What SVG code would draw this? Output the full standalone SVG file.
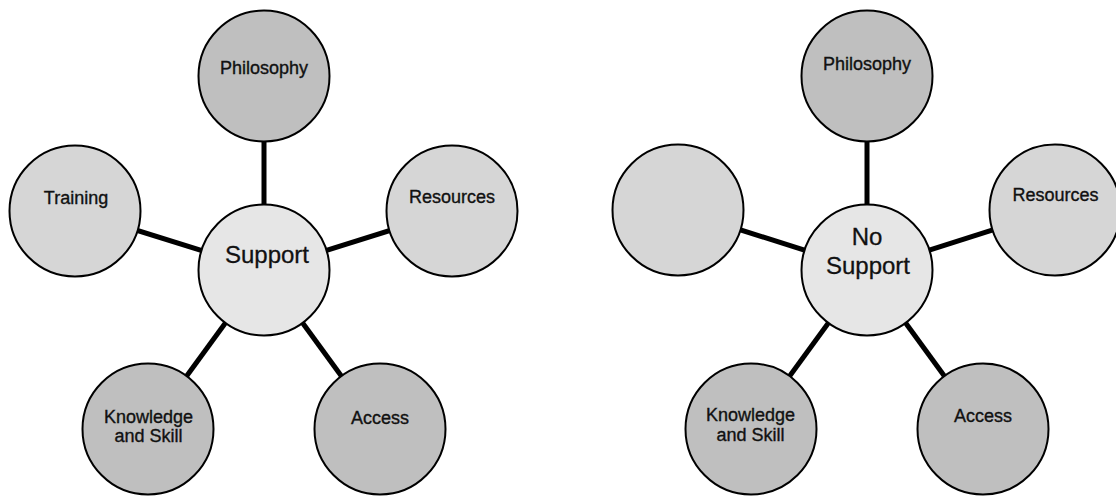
<svg xmlns="http://www.w3.org/2000/svg" width="1116" height="496" viewBox="0 0 1116 496">
<style>
.bg{fill:#ffffff}
.conn line{stroke:#000;stroke-width:5;stroke-linecap:butt}
.node circle{stroke:#000;stroke-width:2}
.dark{fill:#bfbfbf}
.mid{fill:#d6d6d6}
.light{fill:#e6e6e6}
text{font-family:"Liberation Sans",Arial,Helvetica,sans-serif;fill:#111;stroke:#111;stroke-width:0.35;text-anchor:middle;font-size:18px}
text.big{font-size:24px;stroke-width:0.3}
</style>
<rect class="bg" x="0" y="0" width="1116" height="496"/>
<g id="connectors" class="conn">
  <line x1="264" y1="270" x2="264" y2="76"/>
  <line x1="264" y1="270" x2="75" y2="211"/>
  <line x1="264" y1="270" x2="452" y2="211"/>
  <line x1="264" y1="270" x2="148" y2="429"/>
  <line x1="264" y1="270" x2="380" y2="429"/>
  <line x1="867" y1="270" x2="867" y2="76"/>
  <line x1="867" y1="270" x2="678" y2="210"/>
  <line x1="867" y1="270" x2="1055" y2="210"/>
  <line x1="867" y1="270" x2="751" y2="429"/>
  <line x1="867" y1="270" x2="983" y2="429"/>
</g>
<g id="philosophy-1" class="node"><circle class="dark" cx="264" cy="76" r="65.5"/><text x="264" y="74">Philosophy</text></g>
<g id="training-1" class="node"><circle class="mid" cx="75" cy="211" r="65.5"/><text x="76" y="204">Training</text></g>
<g id="resources-1" class="node"><circle class="mid" cx="452" cy="211" r="65.5"/><text x="452" y="203">Resources</text></g>
<g id="knowledge-1" class="node"><circle class="dark" cx="148" cy="429" r="65.5"/><text x="148.5" y="423">Knowledge</text><text x="148.5" y="442">and Skill</text></g>
<g id="access-1" class="node"><circle class="dark" cx="380" cy="429" r="65.5"/><text x="380" y="424">Access</text></g>
<g id="support" class="node"><circle class="light" cx="264" cy="270" r="65.5"/><text class="big" x="267" y="263">Support</text></g>
<g id="philosophy-2" class="node"><circle class="dark" cx="867" cy="76" r="65.5"/><text x="867" y="70">Philosophy</text></g>
<g id="blank-2" class="node"><circle class="mid" cx="678" cy="210" r="65.5"/></g>
<g id="resources-2" class="node"><circle class="mid" cx="1055" cy="210" r="65.5"/><text x="1055.5" y="201">Resources</text></g>
<g id="knowledge-2" class="node"><circle class="dark" cx="751" cy="429" r="65.5"/><text x="750.5" y="421">Knowledge</text><text x="750.5" y="441">and Skill</text></g>
<g id="access-2" class="node"><circle class="dark" cx="983" cy="429" r="65.5"/><text x="983" y="422">Access</text></g>
<g id="no-support" class="node"><circle class="light" cx="867" cy="270" r="65.5"/><text class="big" x="867" y="245">No</text><text class="big" x="868" y="274">Support</text></g>
</svg>
